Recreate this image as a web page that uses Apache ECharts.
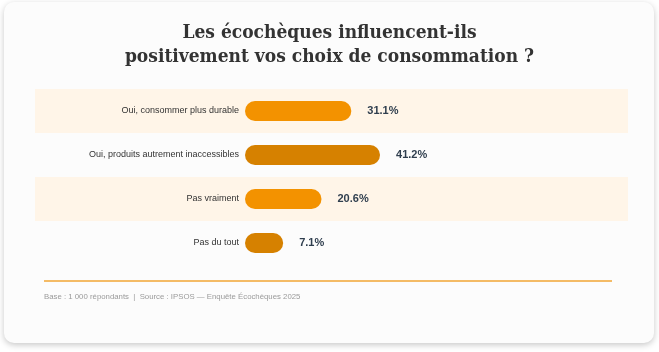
<!DOCTYPE html>
<html><head><meta charset="utf-8">
<script src="https://cdn.jsdelivr.net/npm/echarts@6/dist/echarts.min.js"></script>
<style>html,body{margin:0;padding:0;background:#ffffff;}#c{width:659px;height:352px;}</style>
</head><body><div id="c"></div>
<script>
const categories = ['Oui, consommer plus durable', 'Oui, produits autrement inaccessibles', 'Pas vraiment', 'Pas du tout'];
const values = [31.1, 41.2, 20.6, 7.1];
const barColors = ['#F39200', '#D68100', '#F39200', '#D68100'];
const titleText = 'Les écochèques influencent-ils\npositivement vos choix de consommation ?';
const footerText = 'Base : 1 000 répondants  |  Source : IPSOS — Enquête Écochèques 2025';

const chart = echarts.init(document.getElementById('c'));
chart.setOption({
  animation: false,
  backgroundColor: 'transparent',
  title: {
    text: titleText, left: 'center', top: 16,
    textStyle: { fontFamily: 'DejaVu Serif Condensed', fontWeight: 'bold', fontSize: 19, color: '#333333', lineHeight: 24 }
  },
  graphic: [
    { type: 'rect', z: -10, shape: { x: 4, y: 2, width: 650, height: 341, r: 10 },
      style: { fill: '#fcfcfc', shadowBlur: 6, shadowOffsetY: 2, shadowColor: 'rgba(0,0,0,0.22)' } },
    { type: 'line', shape: { x1: 44, y1: 281, x2: 612, y2: 281 }, style: { stroke: '#F2A634', lineWidth: 1.5 } },
    { type: 'text', left: 44, top: 293, style: { text: footerText, fontFamily: 'Liberation Sans', fontSize: 7.8, fill: '#9a9a9a' } }
  ],
  grid: { left: 263, right: 254, top: 89, bottom: 87 },
  xAxis: { type: 'value', min: 0, max: 50, show: false },
  yAxis: {
    type: 'category', data: categories, inverse: true, z: 5,
    axisLine: { show: false }, axisTick: { show: false },
    axisLabel: { margin: 24, fontFamily: 'Liberation Sans', fontSize: 9, color: '#333333' }
  },
  series: [
    {
      type: 'custom', z: 1,
      data: values.map((v, i) => [v, i]),
      encode: { x: 0, y: 1 },
      renderItem: function (params, api) {
        const i = api.value(1);
        if (i % 2 !== 0) return null;
        const c = api.coord([0, i]);
        const h = api.size([0, 1])[1];
        return { type: 'rect', shape: { x: 35, y: c[1] - h / 2, width: 593, height: h }, style: { fill: '#FFF5E8' } };
      }
    },
    {
      type: 'custom', z: 3,
      data: values.map((v, i) => [v, i]),
      encode: { x: 0, y: 1 },
      renderItem: function (params, api) {
        const v = api.value(0), i = api.value(1);
        const s = api.coord([0, i]);
        const e = api.coord([v, i]);
        const x0 = s[0] - 18;
        return {
          type: 'group', children: [
            { type: 'rect', shape: { x: x0, y: s[1] - 10, width: e[0] - x0, height: 20, r: 10 }, style: { fill: barColors[i] } },
            { type: 'text', style: { x: e[0] + 16, y: s[1], text: v.toFixed(1) + '%', fontFamily: 'Liberation Sans', fontWeight: 'bold', fontSize: 11, fill: '#2F3E4E', verticalAlign: 'middle', align: 'left' } }
          ]
        };
      }
    }
  ]
});
</script></body></html>
